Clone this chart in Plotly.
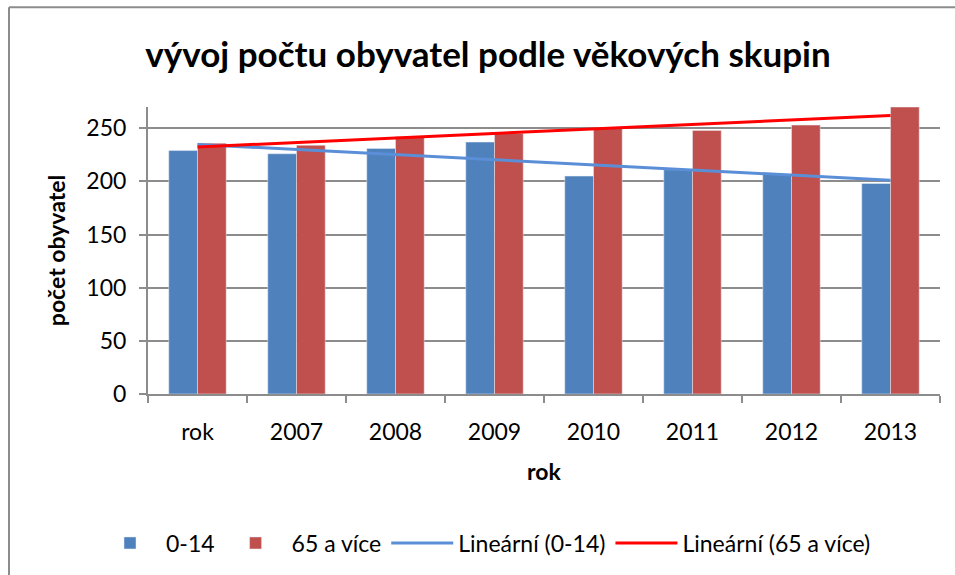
import numpy as np
import plotly.graph_objects as go

categories = ["rok", "2007", "2008", "2009", "2010", "2011", "2012", "2013"]
deti = [229, 226, 231, 237, 205, 211, 207, 198]        # 0-14
seniori = [236, 234, 242, 245, 250, 248, 253, 270]     # 65 a více

W, H = 955, 575
L, R, T, B = 148, 15, 107, 180
FONT = "Lato"
GRID = "#8c8c8c"


def px(x, y):
    # pixel position -> paper coordinates
    return (x - L) / (W - L - R), (H - B - y) / (H - T - B)


def trend(vals):
    idx = np.arange(len(vals))
    k, q = np.polyfit(idx, vals, 1)
    return k * idx + q


fig = go.Figure()
fig.add_trace(go.Bar(x=categories, y=deti, name="0-14", marker_color="#4F81BD"))
fig.add_trace(go.Bar(x=categories, y=seniori, name="65 a více", marker_color="#C0504D"))
fig.add_trace(go.Scatter(x=categories, y=trend(deti), mode="lines", name="Lineární (0-14)",
                         line=dict(color="#5A8FD8", width=3)))
fig.add_trace(go.Scatter(x=categories, y=trend(seniori), mode="lines", name="Lineární (65 a více)",
                         line=dict(color="#FF0000", width=3)))

# chart-area border (only top and left edges are visible in the crop)
x0, y0 = px(9, 7)
x1, y1 = px(960, 580)
fig.add_shape(type="line", xref="paper", yref="paper", x0=x0, y0=y0, x1=x1, y1=y0,
              line=dict(color="#8c8c8c", width=2))
fig.add_shape(type="line", xref="paper", yref="paper", x0=x0, y0=y0, x1=x0, y1=y1,
              line=dict(color="#8c8c8c", width=2))

lx, ly = px(485, 543)
fig.update_layout(
    width=W, height=H,
    margin=dict(l=L, r=R, t=T, b=B),
    paper_bgcolor="white", plot_bgcolor="white",
    font=dict(family=FONT, color="black", size=23),
    title=dict(text="<b>vývoj počtu obyvatel podle věkových skupin</b>",
               x=488 / W, xref="container", xanchor="center", y=1 - 55 / H, yanchor="middle",
               font=dict(size=35, family=FONT)),
    barmode="group", bargap=0.42, bargroupgap=0,
    showlegend=True,
    legend=dict(orientation="h", x=lx, xanchor="center", y=ly, yanchor="middle",
                font=dict(size=23), itemwidth=62, traceorder="normal",
                bgcolor="rgba(0,0,0,0)"),
    xaxis=dict(type="category", showline=True, linecolor=GRID, linewidth=2,
               ticks="outside", tickson="boundaries", ticklen=7, tickcolor=GRID, tickwidth=2,
               ticklabelstandoff=16, showgrid=False,
               title=dict(text="<b>rok</b>", standoff=20, font=dict(size=23))),
    yaxis=dict(range=[0, 270], dtick=50, showline=True, linecolor=GRID, linewidth=2,
               ticks="outside", ticklen=7, tickcolor=GRID, tickwidth=2,
               showgrid=True, gridcolor=GRID, gridwidth=2, zeroline=False,
               ticklabelstandoff=8,
               title=dict(text="<b>počet obyvatel</b>", standoff=14, font=dict(size=23))),
)

fig.write_html("out.html", config={"displayModeBar": False},
               post_script="document.body.style.margin='0';")
